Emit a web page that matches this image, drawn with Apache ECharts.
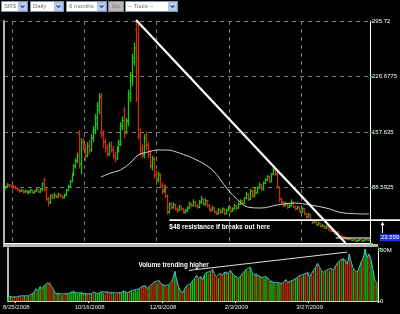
<!DOCTYPE html>
<html><head><meta charset="utf-8">
<script src="https://cdn.jsdelivr.net/npm/echarts@6/dist/echarts.min.js"></script>
<style>html,body{margin:0;padding:0;background:#000;overflow:hidden}#c{width:400px;height:314px}</style>
</head><body><div id="c"></div>
<script>
// ---- calendar (trading days) ----
const firstDate = '2008-08-19';
const barCount = 187;
const holidays = ['2008-09-01','2008-11-27','2008-12-25','2009-01-01','2009-01-19','2009-02-16','2009-04-10'];

// ---- daily prices (USD) ----
const opens = [
 87,89,92,91,90,89,88,86,84,85, 83,84,82,83,85,82,84,86,83,87,
 98,86,74,70,78,76,79,77,80,78, 76,79,85,90,96,105,115,122,155,118,
 145,138,128,140,135,150,160,168,185,200, 155,145,138,130,140,135,128,125,135,145,
 165,185,158,170,200,225,245,285,250,155, 138,128,150,142,130,115,125,105,98,104,
 90,84,90,78,58,68,64,67,62,60, 65,62,58,60,63,68,66,70,66,64,
 70,74,68,72,66,62,60,63,58,56, 61,58,62,56,60,64,59,62,66,63,
 68,72,69,75,80,74,84,78,86,82, 88,92,86,94,98,102,96,105,110,105,
 88,74,70,66,68,64,66,70,65,62, 64,60,58,62,56,52,55,48,45,47,
 42,44,40,41,38,40,36,34,35,31, 33,29,28,27,25,26,24,25,23,24,
 22,23,24,22,23,24,23];
const highs = [
 91,94,93,92,92,91,89,87,87,86, 86,85,85,87,86,85,88,87,88,95,
 101,88,77,80,81,82,80,82,81,79, 81,87,92,98,107,118,125,132,160,150,
 150,142,145,148,155,165,180,195,206,206, 160,150,142,145,146,140,133,140,148,170,
 177,189,175,210,232,255,269,295.72,292,162, 142,155,158,145,135,128,127,110,108,106,
 95,92,92,80,70,70,70,68,64,67, 66,63,62,65,71,70,74,72,68,73,
 78,75,75,73,68,64,66,64,60,63, 62,64,63,62,66,65,64,68,67,70,
 74,73,77,83,82,87,86,89,88,90, 95,93,96,100,104,103,107,114,112,108,
 90,76,72,71,69,68,74,71,66,66, 65,61,64,63,57,57,56,49,49,48,
 46,45,43,42,42,41,37,37,36,34, 34,30,29,28,27,27,26,26,25,25,
 24,25,25,24,25,25,24.5];
const lows = [
 86,88,89,88,87,86,84,82,83,81, 82,80,81,82,81,81,83,82,82,84,
 84,72,65,68,74,75,75,76,76,74, 75,78,84,89,95,103,112,119,112,105,
 135,122,126,130,133,145,155,160,180,150, 138,132,126,128,132,124,120,123,132,140,
 160,150,155,165,195,215,240,195,148,128, 125,125,135,125,112,110,100,95,95,88,
 80,82,75,55,56,61,62,60,57,59, 60,56,56,58,62,64,65,64,62,63,
 68,66,66,64,60,58,59,56,54,55, 56,57,54,55,59,57,58,61,61,62,
 67,67,68,74,72,73,76,77,80,81, 87,84,85,93,97,94,95,104,103,88,
 70,68,64,65,62,63,65,63,60,61, 58,56,57,54,50,51,47,43,44,41,
 41,39,39,37,37,35,33,33,30,30, 28,27,26,24,24,23,23,22,22,21,
 21,22,21,21,22,22,22.5];
const closes = [
 89,92,91,90,89,88,86,84,85,83, 84,82,83,85,82,84,86,83,87,93,
 86,74,70,78,76,79,77,80,78,76, 79,85,90,96,105,115,122,128,118,145,
 140,128,140,135,150,160,175,190,202,155, 145,138,130,140,135,128,125,135,142,165,
 172,155,172,205,228,250,262,200,152,135, 130,150,140,128,115,124,104,98,105,90,
 84,90,78,58,68,64,67,62,60,65, 62,58,60,63,68,66,70,66,64,70,
 74,68,72,66,62,60,63,58,56,61, 58,62,56,60,64,59,62,66,63,68,
 72,69,75,80,74,84,78,86,82,88, 92,86,94,98,102,96,105,110,106,90,
 74,70,66,68,64,66,70,65,62,64, 60,58,62,56,52,55,48,45,47,42,
 44,40,41,38,40,36,34,35,31,33, 29,28,27,25,26,24,25,23,24,22,
 23,24,22,23,24,23,23.559];
// ---- moving average: [bar index, price] ----
const maPoints = [
 [49,101.6],[54,106.6],[59,110.4],[64,119],[68,129],[73,132.7],[78,135.2],[83,135.2],
 [89,131.5],[98,122.8],[106,110.4],[114,85.5],[119,73.1],[124,64.3],[131,63.1],
 [139,66.8],[148,69.3],[156,66.8],[164,63.1],[173,56.9],[186,55.6]];
// ---- daily volume (millions of shares) ----
const volumes = [
 4,5,4,5,4,4,5,4,5,4, 5,5,7,9,12,10,14,12,15,16,
 18,19,14,10,7,8,7,6,7,8, 7,8,9,10,8,7,8,9,7,8,
 7,8,7,9,8,7,8,9,8,9, 10,8,9,8,7,8,9,8,10,9,
 8,9,10,9,11,10,12,14,15,15, 12,14,16,17,19,18,20,17,16,15,
 14,16,18,22,29,20,13,10,8,12, 15,14,17,20,22,25,22,24,20,26,
 28,27,29,31,26,24,23,27,25,28, 29,27,30,27,25,24,22,24,27,29,
 31,30,33,28,26,27,25,24,23,22, 24,23,20,19,18,17,18,17,17,19,
 21,18,19,20,21,22,23,25,24,26, 27,28,23,27,30,33,37,33,30,28,
 29,31,30,32,30,34,37,39,41,42, 40,36,46,38,32,30,28,33,38,42,
 51,42,46,40,30,20,18];

// ---- axes ----
const priceMin = 19.55, priceMax = 295.72, priceStep = 69.0425;
const volMax = 52, volLabels = {0: '0', 50: '50M'};
const dateLabelStart = 4, dateLabelEvery = 37;

// ---- annotations (data coordinates) ----
const resistanceLevel = 48;
const resistanceText = '$48 resistance if breaks out here';
const volumeText = 'Volume trending higher';
const trendStart = [67, 295.72], trendEnd = [174, 19.55];
const supportLevel = 25.8, supportFrom = 169;
const volTrendStart = [91, 30], volTrendEnd = [171, 48];
const toolbarItems = ['SRS', 'Daily', '6 months', 'Go', '-- Tools --'];

function tradingDays(start, n, hol) {
  const out = []; const d = new Date(start + 'T00:00:00Z');
  while (out.length < n) {
    const dow = d.getUTCDay(); const iso = d.toISOString().slice(0, 10);
    if (dow !== 0 && dow !== 6 && hol.indexOf(iso) < 0)
      out.push((d.getUTCMonth() + 1) + '/' + d.getUTCDate() + '/' + d.getUTCFullYear());
    d.setUTCDate(d.getUTCDate() + 1);
  }
  return out;
}
const dates = tradingDays(firstDate, barCount, holidays);
const FONT = 'Liberation Sans';
const GREEN = '#12c812', RED = '#c8300c';
const isUp = i => closes[i] >= opens[i];
const dateInterval = i => i >= dateLabelStart && (i - dateLabelStart) % dateLabelEvery === 0;
const priceRows = closes.map((c, i) => [i, opens[i], highs[i], lows[i], c]);
const lastClose = closes[closes.length - 1];

const chart = echarts.init(document.getElementById('c'), null, {renderer: 'canvas', width: 400, height: 314});
const option = {
  backgroundColor: '#000',
  animation: false,
  grid: [
    {left: 4, top: 21, width: 374, height: 222},
    {left: 4, top: 248, width: 374, height: 53}
  ],
  xAxis: [
    {type: 'category', gridIndex: 0, data: dates, position: 'top', offset: 1.5, boundaryGap: true,
     axisLine: {show: true, lineStyle: {color: '#ffffff', width: 1}}, axisTick: {show: false}, axisLabel: {show: false},
     splitLine: {show: true, interval: dateInterval, lineStyle: {color: '#7a7a7a', type: [4, 4], width: 1}}},
    {type: 'category', gridIndex: 1, data: dates, position: 'bottom', boundaryGap: true,
     axisLine: {show: true, lineStyle: {color: '#d0d0d0', width: 1}},
     axisTick: {show: true, interval: dateInterval, length: 2, lineStyle: {color: '#ffffff'}},
     axisLabel: {interval: dateInterval, color: '#e6e6e6', fontSize: 6, fontFamily: FONT, margin: 3},
     splitLine: {show: false}}
  ],
  yAxis: [
    {type: 'value', gridIndex: 0, position: 'right', min: priceMin, max: priceMax, interval: priceStep,
     axisLine: {show: true, lineStyle: {color: '#ffffff', width: 1}},
     axisTick: {show: true, length: 3, lineStyle: {color: '#22dd22', width: 1}},
     axisLabel: {color: '#ffffff', fontSize: 6, fontFamily: FONT, margin: 2,
       formatter: v => (Math.abs(v - priceMin) < 0.01 ? '' : String(+v.toFixed(4)))},
     splitLine: {show: true, lineStyle: {color: '#7a7a7a', type: [4, 4], width: 1}}},
    {type: 'value', gridIndex: 1, position: 'right', min: 0, max: volMax, interval: 50,
     axisLine: {show: true, lineStyle: {color: '#ffffff', width: 1}},
     axisTick: {show: true, length: 3, lineStyle: {color: '#22dd22', width: 1}},
     axisLabel: {color: '#ffffff', fontSize: 6, fontFamily: FONT, margin: 2,
       formatter: v => volLabels[v] || ''},
     splitLine: {show: false}},
    {type: 'value', gridIndex: 0, position: 'left', axisLine: {show: true, lineStyle: {color: '#b4b4b4', width: 2}},
     axisTick: {show: false}, axisLabel: {show: false}, splitLine: {show: false}},
    {type: 'value', gridIndex: 1, position: 'left', axisLine: {show: true, lineStyle: {color: '#b4b4b4', width: 2}},
     axisTick: {show: false}, axisLabel: {show: false}, splitLine: {show: false}}
  ],
  series: [
    {type: 'custom', name: 'SRS', xAxisIndex: 0, yAxisIndex: 0, data: priceRows,
     encode: {x: 0, y: [1, 2, 3, 4]}, z: 2,
     renderItem: (params, api) => {
       const i = api.value(0);
       const o = api.coord([i, api.value(1)]), h = api.coord([i, api.value(2)]);
       const l = api.coord([i, api.value(3)]), c = api.coord([i, api.value(4)]);
       const x = Math.round(o[0]) + 0.5;
       const col = api.value(4) >= api.value(1) ? GREEN : RED;
       return {type: 'group', children: [
         {type: 'line', shape: {x1: x, y1: h[1], x2: x, y2: l[1]}, style: {stroke: col, lineWidth: 1.3}},
         {type: 'line', shape: {x1: x - 1.5, y1: o[1], x2: x, y2: o[1]}, style: {stroke: col, lineWidth: 1}},
         {type: 'line', shape: {x1: x, y1: c[1], x2: x + 1.5, y2: c[1]}, style: {stroke: col, lineWidth: 1}}
       ]};
     }},
    {type: 'line', name: 'MA', xAxisIndex: 0, yAxisIndex: 0, data: maPoints, z: 3, smooth: 0.35,
     symbol: 'none', lineStyle: {color: '#d2d2d2', width: 1}},
    {type: 'bar', name: 'Volume', xAxisIndex: 1, yAxisIndex: 1, data: volumes, barWidth: 1.4,
     itemStyle: {color: p => (isUp(p.dataIndex) ? GREEN : RED)}},
    {type: 'line', name: 'VolLine', xAxisIndex: 1, yAxisIndex: 1, data: volumes, symbol: 'none', z: 3,
     lineStyle: {color: '#2ccfd0', width: 1}}
  ]
};
chart.setOption(option);

// ---- annotations placed through the chart's own scales ----
const P = (si, v) => chart.convertToPixel({seriesIndex: si}, v);
const t0 = P(0, trendStart), t1 = P(0, trendEnd);
const r0 = P(0, [84, resistanceLevel]);
const s0 = P(0, [supportFrom, supportLevel]), s1 = P(0, [barCount - 1, supportLevel]);
const lc = P(0, [barCount - 1, lastClose]);
const v0 = P(2, volTrendStart), v1 = P(2, volTrendEnd);
const gfx = [];
// toolbar
const boxes = [[1, 26, true], [30, 33, true], [66, 40, true], [108, 15, false], [125, 52, true]];
boxes.forEach((b, k) => {
  const [x, w, sel] = b;
  if (sel) {
    gfx.push({type: 'rect', shape: {x: x + 0.5, y: 1.5, width: w, height: 10}, style: {fill: '#ffffff', stroke: '#7f9db9', lineWidth: 1}});
    gfx.push({type: 'rect', shape: {x: x + w - 8.5, y: 2.5, width: 8, height: 8}, style: {fill: '#bccff4', stroke: '#a5b9e3', lineWidth: 1}});
    gfx.push({type: 'polyline', shape: {points: [[x + w - 6.5, 5.5], [x + w - 4.5, 7.5], [x + w - 2.5, 5.5]]}, style: {stroke: '#3a4d7a', lineWidth: 1.2, fill: null}});
    gfx.push({type: 'text', x: x + 3, y: 6.8, style: {text: toolbarItems[k], fill: '#707070', font: '6px ' + FONT, align: 'left', verticalAlign: 'middle'}});
  } else {
    gfx.push({type: 'rect', shape: {x: x + 0.5, y: 1.5, width: w, height: 10}, style: {fill: '#b8b8b8', stroke: '#8a8a8a', lineWidth: 1}});
    gfx.push({type: 'text', x: x + w / 2 + 0.5, y: 6.8, style: {text: toolbarItems[k], fill: '#707070', font: '6px ' + FONT, align: 'center', verticalAlign: 'middle'}});
  }
});
// separator between panels
gfx.push({type: 'rect', shape: {x: 3, y: 244, width: 375, height: 3}, style: {fill: '#b8b8b8'}, z: 10});
// last price flag on the right axis
gfx.push({type: 'text', x: 380, y: lc[1] - 2, z: 30, style: {text: String(lastClose), fill: '#ffffff', font: '6px ' + FONT,
  align: 'left', verticalAlign: 'middle', backgroundColor: '#1e32f0', padding: [1, 1, 0, 1]}});
// trend line from the peak
gfx.push({type: 'line', shape: {x1: t0[0], y1: t0[1] - 1, x2: t1[0], y2: t1[1]}, style: {stroke: '#ffffff', lineWidth: 2.2}, z: 20});
// resistance line, extended to the right edge
gfx.push({type: 'line', shape: {x1: r0[0], y1: r0[1], x2: 400, y2: r0[1]}, style: {stroke: '#ffffff', lineWidth: 1.6}, z: 20});
gfx.push({type: 'text', x: r0[0], y: r0[1] + 7.5, style: {text: resistanceText, fill: '#ffffff', font: 'bold 6.5px ' + FONT, align: 'left', verticalAlign: 'middle'}, z: 20});
// short support line
gfx.push({type: 'line', shape: {x1: s0[0], y1: s0[1], x2: s1[0] + 1, y2: s1[1]}, style: {stroke: '#ffffff', lineWidth: 1}, z: 20});
// up arrow at right
gfx.push({type: 'line', shape: {x1: 382.5, y1: r0[1] + 13, x2: 382.5, y2: r0[1] + 3}, style: {stroke: '#ffffff', lineWidth: 1}, z: 20});
gfx.push({type: 'polygon', shape: {points: [[380.5, r0[1] + 5], [382.5, r0[1] + 1.5], [384.5, r0[1] + 5]]}, style: {fill: '#ffffff'}, z: 20});
// volume trend
gfx.push({type: 'line', shape: {x1: v0[0], y1: v0[1], x2: v1[0], y2: v1[1]}, style: {stroke: '#e0e0e0', lineWidth: 1}, z: 20});
gfx.push({type: 'text', x: v0[0] + 20, y: v0[1] - 5, style: {text: volumeText, fill: '#ffffff', font: 'bold 6.3px ' + FONT, align: 'right', verticalAlign: 'middle'}, z: 20});
chart.setOption({graphic: gfx});
</script>
</body></html>
